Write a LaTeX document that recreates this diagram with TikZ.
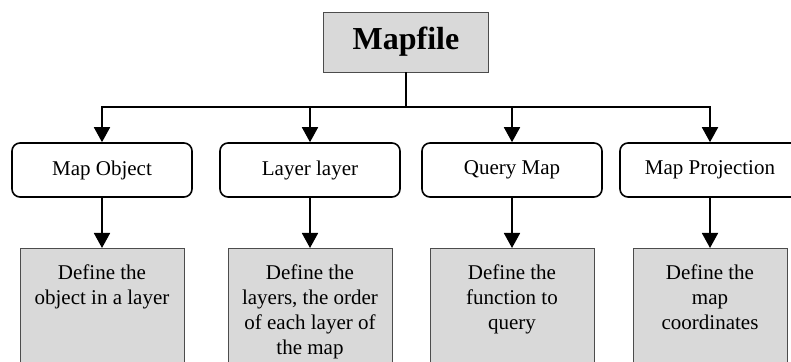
\documentclass[tikz,border=0pt]{standalone}
\usepackage{fontspec}
\setmainfont{Liberation Serif}
\usetikzlibrary{arrows.meta}
\definecolor{boxgray}{HTML}{D9D9D9}
\tikzset{>={Triangle[length=7.5pt, width=8pt]}}
\tikzset{
	head/.style = {draw = black!70, fill = boxgray, minimum width = 82.5pt, minimum height = 30pt,
		font = \bfseries\fontsize{16}{18}\selectfont},
	item/.style = {draw, line width = 0.8pt, rounded corners = 4pt, fill = white,
		minimum width = 90pt, minimum height = 27pt},
	note/.style = {draw = black!70, fill = boxgray, anchor = north, minimum height = 80pt, inner sep = 0pt},
	notetext/.style = {anchor = north, yshift = -8pt, align = center, inner sep = 0pt},
	link/.style = {line width = 0.9pt}
}

\begin{document}
\begin{tikzpicture}[x = 0.5pt, y = -0.5pt, font = \fontsize{10.5}{12.5}\selectfont]
\useasboundingbox (0,0) rectangle (791,362);
\clip (0,0) rectangle (791,362);

\node[head] (map) at (406,42) {Mapfile};
\coordinate (bus) at (406,107);
\draw[link] (map) -- (bus);

\foreach[count = \i] \x/\w/\lbl/\txt in {
	102/164/Map Object/{Define the\\object in a layer},
	310/164/Layer layer/{Define the\\layers, the order\\of each layer of\\the map},
	512/164/Query Map/{Define the\\function to\\query},
	710/154/Map Projection/{Define the\\map\\coordinates}} {
	\node[item] (obj\i) at (\x,170) {\lbl};
	\node[note, minimum width = \w*0.5pt] (def\i) at (\x,248) {};
	\node[notetext] (txt\i) at (def\i.north) {\txt};

	\draw[link, ->] (bus) -| (obj\i);
	\draw[link, ->] (obj\i) -- (def\i);
}

\end{tikzpicture}
\end{document}
